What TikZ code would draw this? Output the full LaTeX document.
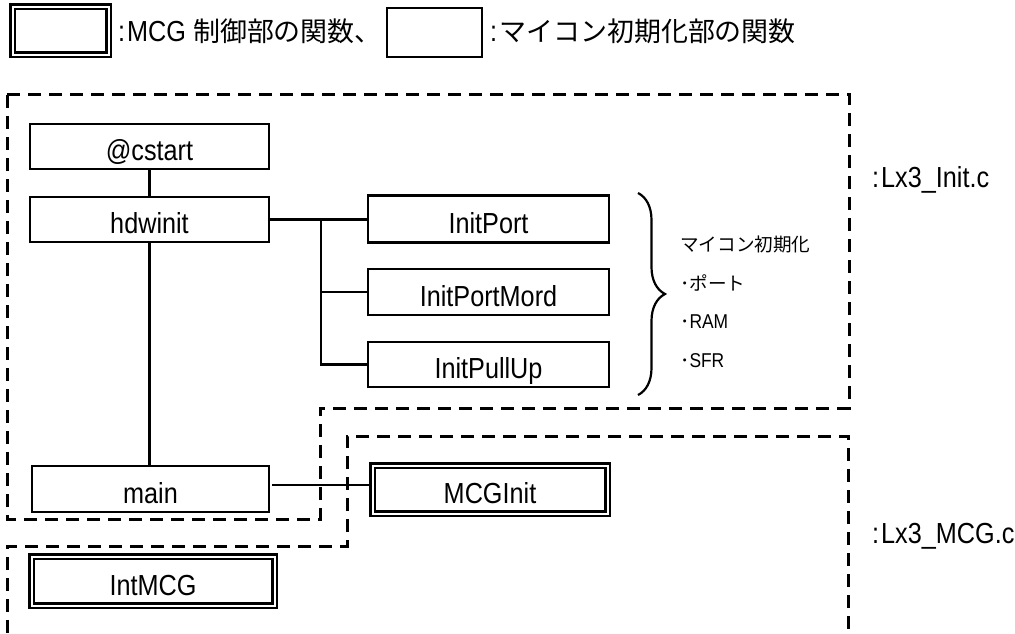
\documentclass[tikz,border=0pt]{standalone}
\usepackage{fontspec}
\setmainfont{Liberation Sans}[FakeStretch=0.87]
\newfontfamily\jp{Noto Sans CJK JP}[Scale=0.93]
\usetikzlibrary{decorations.pathreplacing}

\begin{document}
\begin{tikzpicture}[x=1pt, y=-1pt,
        func/.style={draw, line width=2.5pt, inner sep=0pt, outer sep=0pt, minimum width=239pt, minimum height=46pt,
            text height=30pt, text depth=2pt, font=\fontsize{29pt}{34pt}\selectfont},
        mcgfunc/.style={func, line width=2.6pt, double=white, double distance=2pt},
        wire/.style={line width=2.2pt},
        thinwire/.style={line width=1.7pt},
        region/.style={line width=3pt, dash pattern=on 13pt off 8pt},
        legendtext/.style={inner sep=0pt, font=\fontsize{29pt}{34pt}\selectfont},
        notetext/.style={inner sep=0pt, font=\fontsize{20pt}{24pt}\selectfont}]
        \useasboundingbox (0,0) rectangle (1015,633);

        % legend
        \node[mcgfunc, minimum width=96pt, minimum height=48pt] (keymcg) at (60.5,30.5) {};
        \node[legendtext, anchor=base west] (keymcgtext) at (118,41) {:\kern2pt MCG {\jp 制御部の関数、}};
        \node[func, minimum width=95pt, minimum height=49pt] (keyinit) at (434.5,32.5) {};
        \node[legendtext, anchor=base west] (keyinittext) at (490,41) {:\kern2pt{\jp マイコン初期化部の関数}};

        % file regions
        \draw[region] (7,94) -- (849,94) -- (849,408) -- (320,408) -- (320,519) -- (7,519) -- cycle;
        \draw[region] (7,633) -- (7,546) -- (347,546) -- (347,436) -- (848,436) -- (848,633);
        \node[legendtext, anchor=base west] (initfile) at (872,187) {:\kern2pt Lx3\_Init.c};
        \node[legendtext, anchor=base west] (mcgfile) at (872,543) {:\kern2pt Lx3\_MCG.c};

        % functions
        \node[func, minimum height=45pt] (cstart) at (149.5,146.5) {@cstart};
        \node[func, minimum height=45pt] (hdwinit) at (149.5,219.5) {hdwinit};
        \node[func, minimum width=237pt] (main) at (150.5,489) {main};
        \node[func, minimum width=241pt, minimum height=47pt] (initport) at (488.5,219) {InitPort};
        \node[func, minimum width=241pt] (initportmord) at (488.5,292) {InitPortMord};
        \node[func, minimum width=241pt, minimum height=45pt] (initpullup) at (488.5,364.5) {InitPullUp};
        \node[mcgfunc, minimum width=235pt, minimum height=48pt] (mcginit) at (490,489.5) {MCGInit};
        \node[mcgfunc, minimum width=243pt, minimum height=49pt] (intmcg) at (153,581) {IntMCG};

        % calls
        \draw[wire] (cstart) -- (hdwinit);
        \draw[wire] (hdwinit.south) -- (hdwinit.south |- main.north);
        \draw[wire] (hdwinit.east) -- (hdwinit.east -| initport.west);
        \coordinate (trunk) at (321,0);
        \draw[wire] (trunk |- hdwinit.east) -- (trunk |- initpullup.west) -- (initpullup.west);
        \draw[wire] (trunk |- initportmord.west) -- (initportmord.west);
        \coordinate (mainout) at ([xshift=3pt,yshift=4pt]main.east);
        \draw[thinwire, shorten >=3.6pt] (mainout) -- (mainout -| mcginit.west);

        % note
        \draw[line width=2.2pt, decorate, decoration={brace, amplitude=27pt}] (638,193) -- (638,395);
        \node[notetext, anchor=base west] (notehead) at (680,251) {\jp マイコン初期化};
        \node[notetext, anchor=base west] (noteport) at (680,290) {\jp ･ポート};
        \node[notetext, anchor=base west] (noteram) at (680,328) {{\jp ･}RAM};
        \node[notetext, anchor=base west] (notesfr) at (680,367) {{\jp ･}SFR};

\end{tikzpicture}
\end{document}
